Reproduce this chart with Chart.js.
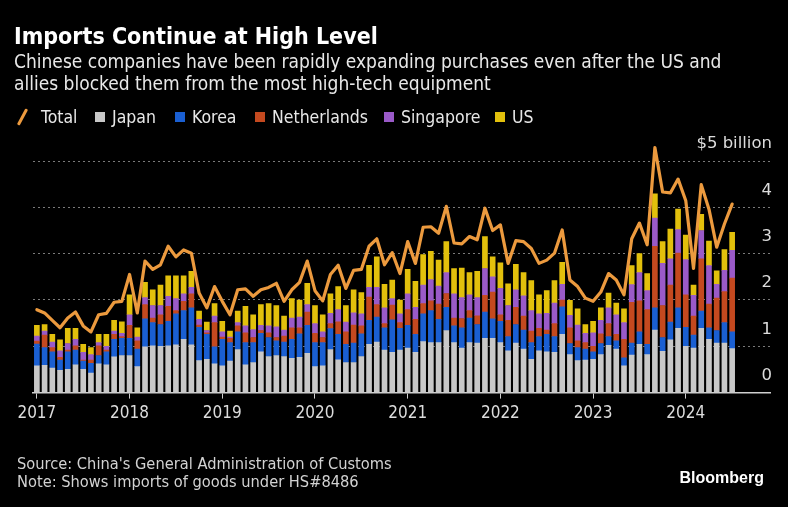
<!DOCTYPE html>
<html>
<head>
<meta charset="utf-8">
<script src="https://cdn.jsdelivr.net/npm/chart.js@4.4.1/dist/chart.umd.min.js"></script>
<style>
  html, body { margin: 0; padding: 0; background: #000; width: 788px; height: 507px; overflow: hidden; }
  body { position: relative; font-family: 'DejaVu Sans Condensed', 'DejaVu Sans', sans-serif; color: #fff; }
  #title { position: absolute; left: 14px; top: 25px; font-size: 23px; line-height: 23px; font-weight: bold; color: #fff; white-space: nowrap; }
  #sub { position: absolute; left: 14px; top: 50px; font-size: 19px; line-height: 22px; color: #e8e8e8; white-space: nowrap; }
  .leg { position: absolute; top: 107px; font-size: 17.5px; line-height: 20px; color: #e8e8e8; white-space: nowrap; }
  .sw { position: absolute; top: 5px; width: 10px; height: 10px; }
  .leg span.t { position: absolute; left: 17px; top: 0; }
  #totIcon { position: absolute; left: 3px; top: 1px; width: 3px; height: 18px; background: #ec9a3e; transform: rotate(28deg); border-radius: 1px; }
  #foot { position: absolute; left: 17px; top: 455px; font-size: 16.3px; line-height: 18px; color: #d2d2d2; white-space: nowrap; }
  #logo { position: absolute; right: 24px; top: 470px; font-family: 'Liberation Sans', Arial, sans-serif; font-size: 16px; line-height: 16px; font-weight: bold; color: #fff; }
  #c { position: absolute; left: 0; top: 0; }
</style>
</head>
<body>
<canvas id="c" width="788" height="507"></canvas>
<div id="title">Imports Continue at High Level</div>
<div id="sub">Chinese companies have been rapidly expanding purchases even after the US and<br>allies blocked them from the most high-tech equipment</div>
<div class="leg" style="left:18px;"><div id="totIcon"></div><span class="t" style="left:23px">Total</span></div>
<div class="leg" style="left:95px;"><div class="sw" style="background:#c8c8c8"></div><span class="t">Japan</span></div>
<div class="leg" style="left:175px;"><div class="sw" style="background:#1a5fd2"></div><span class="t">Korea</span></div>
<div class="leg" style="left:255px;"><div class="sw" style="background:#c4491f"></div><span class="t">Netherlands</span></div>
<div class="leg" style="left:384px;"><div class="sw" style="background:#9a5ac8"></div><span class="t">Singapore</span></div>
<div class="leg" style="left:495px;"><div class="sw" style="background:#e2c00c"></div><span class="t">US</span></div>
<div id="foot">Source: China's General Administration of Customs<br>Note: Shows imports of goods under HS#8486</div>
<div id="logo">Bloomberg</div>
<script>
// Monthly data, Jan 2017 - Jul 2024, $ billion
const yearLabels = ['2017', '2018', '2019', '2020', '2021', '2022', '2023', '2024'];
const months = [];
for (let y = 2017; y <= 2024; y++) for (let m = 1; m <= 12; m++) if (y < 2024 || m <= 7) months.push(y + '-' + String(m).padStart(2, '0'));

const japan = [
  0.58, 0.59, 0.53, 0.48, 0.50, 0.60, 0.50, 0.42, 0.62, 0.60, 0.77, 0.80,
  0.80, 0.56, 0.99, 1.01, 1.00, 1.01, 1.03, 1.15, 1.03, 0.69, 0.72, 0.62,
  0.58, 0.68, 0.93, 0.60, 0.65, 0.88, 0.78, 0.80, 0.78, 0.74, 0.76, 0.85,
  0.56, 0.58, 0.93, 0.71, 0.65, 0.65, 0.78, 1.04, 1.09, 0.92, 0.87, 0.92,
  0.96, 0.87, 1.10, 1.08, 1.08, 1.34, 1.08, 0.96, 1.08, 1.07, 1.17, 1.17,
  1.08, 0.90, 1.07, 0.94, 0.72, 0.90, 0.88, 0.87, 1.26, 0.82, 0.69, 0.70,
  0.72, 0.82, 1.02, 0.94, 0.58, 0.81, 1.04, 0.82, 1.35, 0.89, 1.14, 1.39,
  1.00, 0.96, 1.39, 1.15, 1.07, 1.07, 0.95
];
const korea = [
  0.47, 0.38, 0.35, 0.22, 0.38, 0.32, 0.18, 0.21, 0.18, 0.28, 0.38, 0.37,
  0.37, 0.38, 0.60, 0.50, 0.47, 0.53, 0.67, 0.62, 0.80, 0.72, 0.54, 0.37,
  0.57, 0.40, 0.38, 0.48, 0.43, 0.40, 0.41, 0.32, 0.31, 0.41, 0.51, 0.60,
  0.52, 0.50, 0.45, 0.55, 0.39, 0.42, 0.49, 0.52, 0.54, 0.48, 0.70, 0.47,
  0.49, 0.39, 0.60, 0.69, 0.50, 0.50, 0.36, 0.44, 0.53, 0.40, 0.57, 0.42,
  0.46, 0.31, 0.40, 0.41, 0.36, 0.31, 0.38, 0.34, 0.59, 0.24, 0.28, 0.24,
  0.16, 0.24, 0.19, 0.18, 0.17, 0.26, 0.27, 0.22, 0.48, 0.30, 0.38, 0.44,
  0.41, 0.28, 0.37, 0.25, 0.27, 0.44, 0.36
];
const netherlands = [
  0.06, 0.27, 0.09, 0.06, 0.04, 0.09, 0.02, 0.07, 0.21, 0.04, 0.11, 0.04,
  0.28, 0.18, 0.31, 0.10, 0.21, 0.32, 0.07, 0.20, 0.30, 0.05, 0.03, 0.52,
  0.05, 0.09, 0.13, 0.21, 0.11, 0.06, 0.10, 0.07, 0.13, 0.25, 0.13, 0.29,
  0.20, 0.11, 0.11, 0.27, 0.27, 0.39, 0.17, 0.50, 0.27, 0.09, 0.32, 0.12,
  0.34, 0.32, 0.22, 0.21, 0.33, 0.30, 0.17, 0.20, 0.16, 0.19, 0.36, 0.58,
  0.14, 0.35, 0.37, 0.30, 0.25, 0.18, 0.09, 0.28, 0.15, 0.34, 0.15, 0.14,
  0.12, 0.21, 0.28, 0.14, 0.40, 0.88, 0.67, 0.75, 1.33, 0.69, 0.80, 1.18,
  0.70, 0.41, 1.13, 0.51, 0.70, 0.67, 1.16
];
const singapore = [
  0.11, 0.09, 0.12, 0.14, 0.14, 0.14, 0.17, 0.12, 0.07, 0.08, 0.07, 0.07,
  0.23, 0.08, 0.15, 0.27, 0.20, 0.22, 0.26, 0.16, 0.14, 0.12, 0.05, 0.14,
  0.11, 0.03, 0.07, 0.15, 0.17, 0.11, 0.15, 0.23, 0.13, 0.21, 0.23, 0.16,
  0.21, 0.12, 0.22, 0.26, 0.21, 0.26, 0.26, 0.21, 0.37, 0.34, 0.14, 0.19,
  0.34, 0.26, 0.40, 0.46, 0.39, 0.45, 0.52, 0.45, 0.34, 0.39, 0.58, 0.33,
  0.57, 0.32, 0.38, 0.44, 0.44, 0.31, 0.36, 0.44, 0.34, 0.27, 0.34, 0.20,
  0.29, 0.29, 0.34, 0.42, 0.36, 0.38, 0.61, 0.41, 0.61, 0.91, 0.57, 0.51,
  0.76, 0.45, 0.61, 0.83, 0.30, 0.46, 0.60
];
const us = [
  0.23, 0.14, 0.17, 0.24, 0.33, 0.24, 0.17, 0.15, 0.18, 0.26, 0.23, 0.25,
  0.43, 0.20, 0.33, 0.34, 0.44, 0.44, 0.49, 0.39, 0.35, 0.18, 0.18, 0.27,
  0.23, 0.13, 0.25, 0.42, 0.32, 0.45, 0.48, 0.46, 0.30, 0.42, 0.37, 0.46,
  0.39, 0.37, 0.42, 0.50, 0.36, 0.50, 0.46, 0.48, 0.66, 0.51, 0.40, 0.30,
  0.53, 0.56, 0.66, 0.61, 0.56, 0.67, 0.55, 0.64, 0.48, 0.57, 0.69, 0.43,
  0.55, 0.47, 0.55, 0.50, 0.65, 0.41, 0.49, 0.49, 0.47, 0.32, 0.35, 0.19,
  0.25, 0.27, 0.32, 0.25, 0.30, 0.41, 0.41, 0.37, 0.52, 0.47, 0.64, 0.44,
  0.53, 0.22, 0.35, 0.53, 0.29, 0.45, 0.39
];
const total = [
  1.79, 1.72, 1.56, 1.40, 1.61, 1.74, 1.44, 1.31, 1.68, 1.71, 1.95, 1.97,
  2.55, 1.72, 2.84, 2.66, 2.76, 3.16, 2.93, 3.08, 3.01, 2.15, 1.83, 2.29,
  1.97, 1.68, 2.22, 2.24, 2.08, 2.22, 2.27, 2.36, 1.97, 2.22, 2.38, 2.84,
  2.20, 1.98, 2.55, 2.75, 2.25, 2.64, 2.66, 3.16, 3.32, 2.76, 3.02, 2.57,
  3.26, 2.79, 3.57, 3.58, 3.44, 4.02, 3.23, 3.21, 3.37, 3.30, 3.98, 3.50,
  3.62, 2.79, 3.28, 3.26, 3.11, 2.79, 2.86, 3.01, 3.51, 2.43, 2.29, 2.04,
  1.97, 2.17, 2.57, 2.43, 2.11, 3.32, 3.66, 3.19, 5.29, 4.33, 4.31, 4.61,
  4.14, 2.68, 4.49, 3.96, 3.14, 3.64, 4.07
];
const yTickValues = [0, 1, 2, 3, 4, 5];

const FONT = 'DejaVu Sans Condensed';
Chart.defaults.font.family = FONT;

const toXY = arr => arr.map((v, i) => ({ x: i, y: v }));
const barDs = (label, data, color) => ({
  type: 'bar', label, data: toXY(data), backgroundColor: color, borderWidth: 0,
  barThickness: 5, stack: 'countries', order: 1
});

new Chart(document.getElementById('c'), {
  type: 'bar',
  data: {
    labels: months,
    datasets: [
      { type: 'line', label: 'Total', data: toXY(total), borderColor: '#ec9a3e', borderWidth: 3.2,
        pointRadius: 0, tension: 0, stack: 'total', order: 0, clip: false, borderJoinStyle: 'round', borderCapStyle: 'round' },
      barDs('Japan', japan, '#c8c8c8'),
      barDs('Korea', korea, '#1a5fd2'),
      barDs('Netherlands', netherlands, '#c4491f'),
      barDs('Singapore', singapore, '#9a5ac8'),
      barDs('US', us, '#e2c00c')
    ]
  },
  options: {
    responsive: false,
    animation: false,
    layout: { padding: { left: 33, right: 14, top: 161, bottom: 78 } },
    plugins: { legend: { display: false }, tooltip: { enabled: false } },
    scales: {
      x: {
        type: 'linear', min: -0.5, max: 94.9, stacked: true, offset: false, bounds: 'data',
        afterBuildTicks: s => { s.ticks = yearLabels.map((y, i) => ({ value: i * 12 })); },
        grid: { display: true, drawOnChartArea: false, drawTicks: true, tickLength: 6, color: '#cfcfcf', lineWidth: 1, offset: false },
        border: { display: true, color: '#cfcfcf', width: 1.5 },
        ticks: { color: '#dcdcdc', font: { size: 17 }, padding: 5, autoSkip: false, maxRotation: 0,
                 callback: (v, i) => yearLabels[i] }
      },
      y: {
        stacked: true, position: 'right', min: 0, max: 5,
        afterBuildTicks: s => { s.ticks = yTickValues.map(v => ({ value: v })); },
        grid: { color: '#7a7a7a', lineWidth: 1, drawTicks: false },
        border: { display: false, dash: [2, 3] },
        ticks: { mirror: true, padding: 2, labelOffset: -17, color: '#dcdcdc', font: { size: 16.5, family: 'DejaVu Sans' },
                 callback: v => (v === 5 ? '$5 billion' : String(v)) }
      }
    }
  }
});
</script>
</body>
</html>
